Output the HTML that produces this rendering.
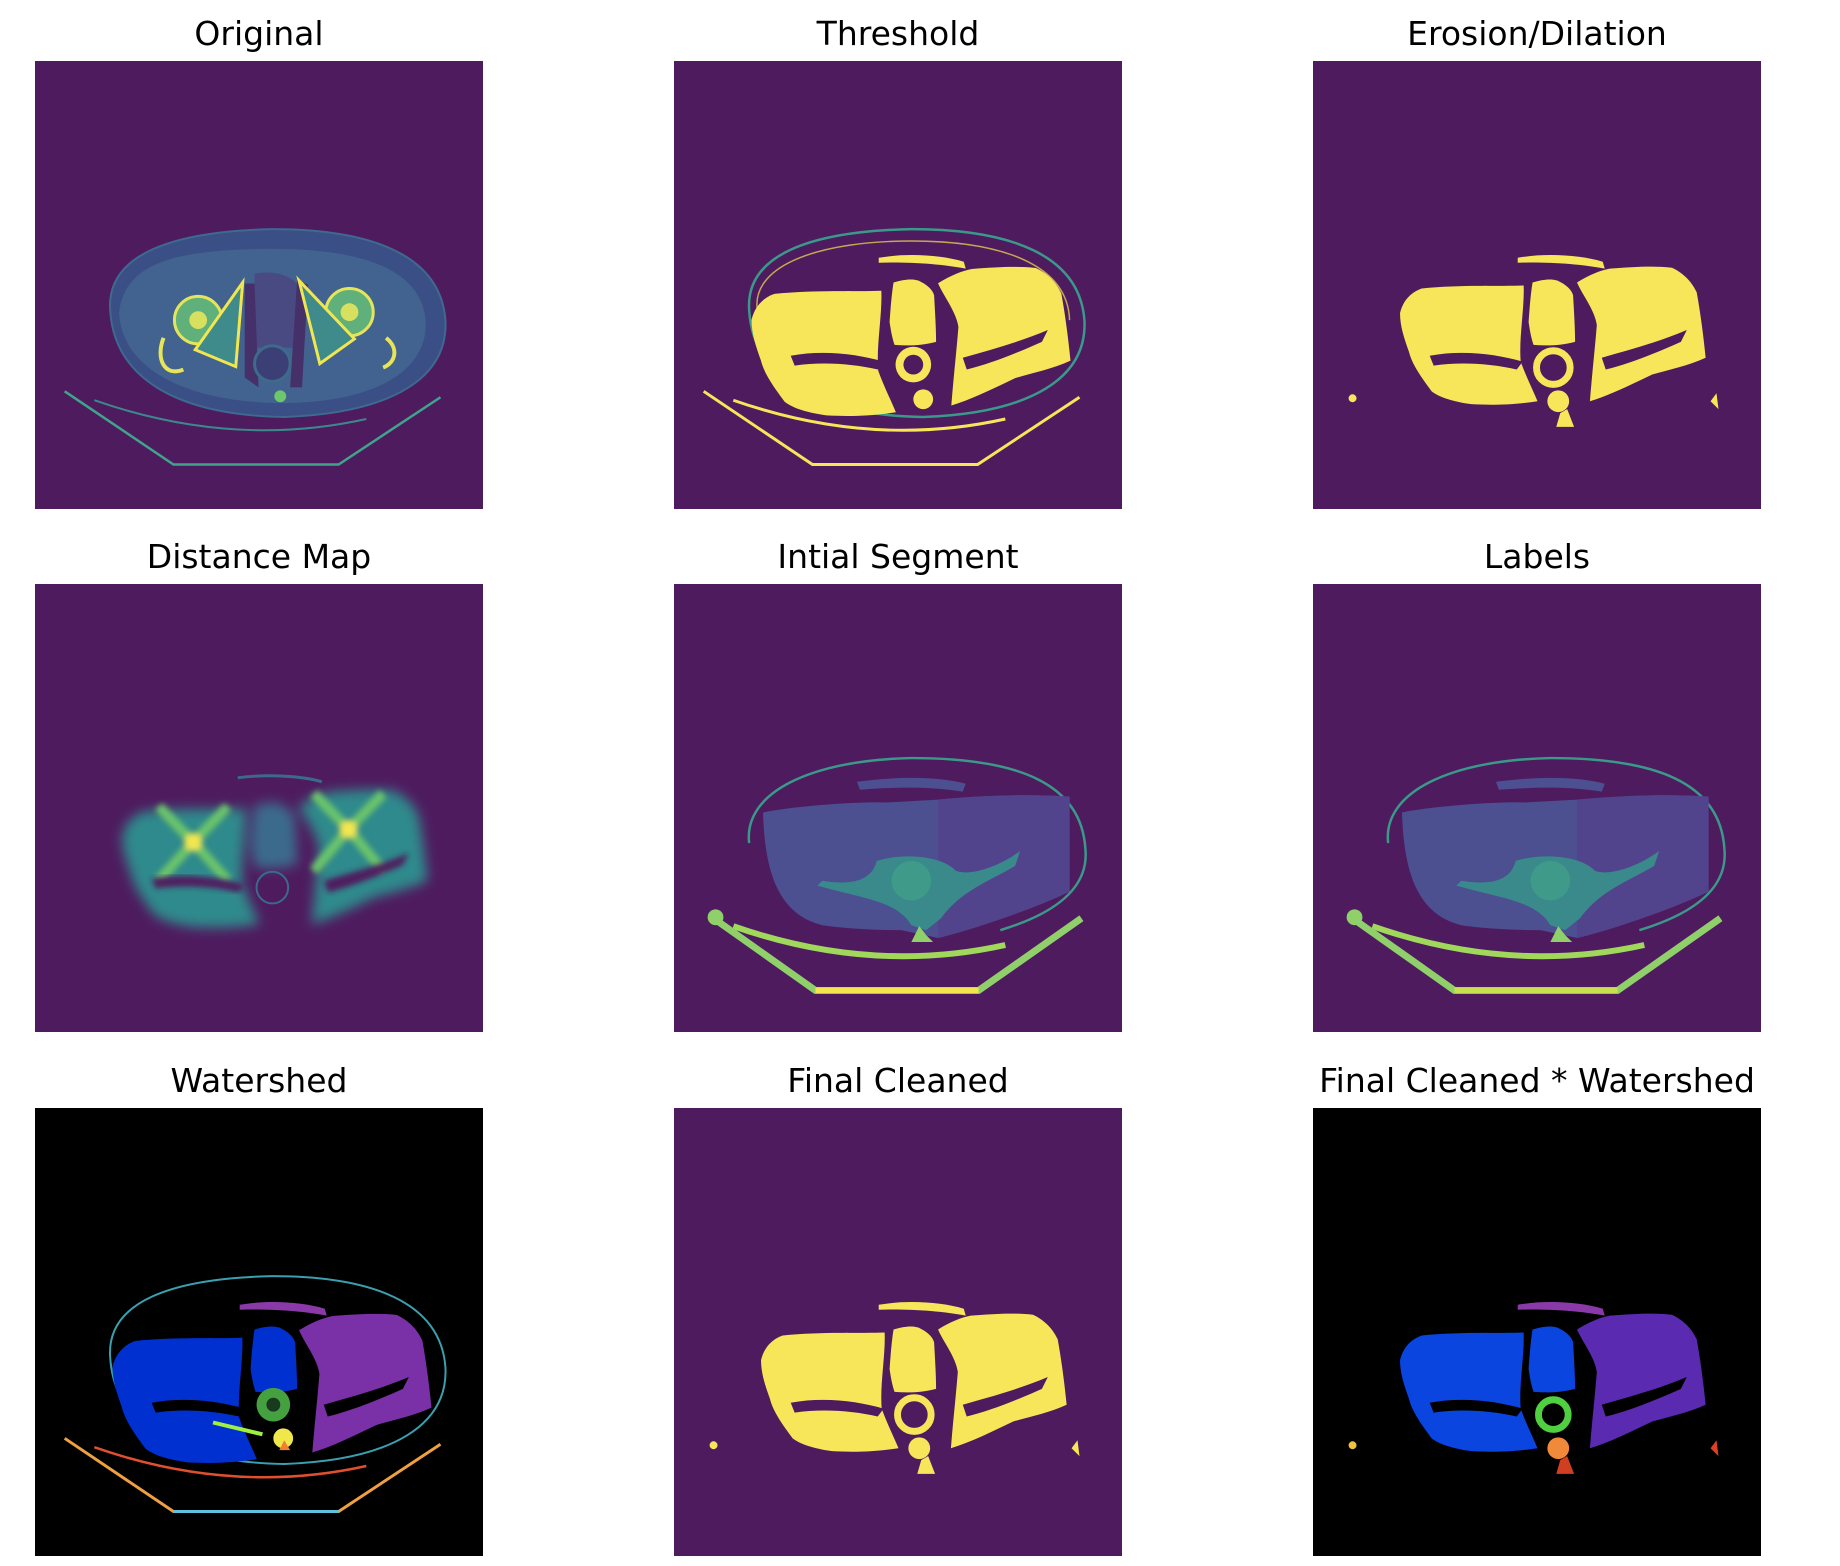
<!DOCTYPE html>
<html><head><meta charset="utf-8">
<style>
html,body{margin:0;padding:0;background:#fff;}
body{width:1840px;height:1566px;position:relative;overflow:hidden;font-family:"DejaVu Sans","Liberation Sans",sans-serif;}
.title{position:absolute;width:600px;text-align:center;font-size:33px;line-height:33px;color:#000;white-space:nowrap;}
svg.p{position:absolute;width:448px;height:448px;}
</style></head>
<body>
<svg width="0" height="0" style="position:absolute">
<defs>
<path id="LM" d="M88,255 C92,238 104,232 110,230 C150,226 190,228 213,227 C214,250 208,280 210,304 C215,318 222,332 227,344 C200,348 180,348 160,347 C140,344 128,340 120,334 C108,318 100,306 97,294 C92,280 88,268 88,255 Z"/>
<path id="CM" d="M222,224 C232,221 240,220 247,222 C256,226 262,232 263,237 C264,255 265,270 265,284 C250,288 236,288 223,287 C220,278 219,270 218,264 C219,250 220,236 222,224 Z"/>
<path id="RM" d="M267,224 C280,216 290,212 300,210 C325,208 345,207 363,209 C376,215 384,225 388,234 C392,256 395,280 397,300 C380,308 360,312 343,317 C320,328 300,338 280,344 C282,318 285,292 287,267 C285,252 272,236 267,224 Z"/>
<path id="TS" d="M207,199 C235,194 270,196 293,203 L295,210 C270,205 235,203 207,204 Z"/>
<path id="BODY" d="M76,252 C72,195 140,172 240,170 C340,170 410,196 415,262 C418,320 362,356 252,360 C142,358 80,320 76,252 Z"/>
<path id="TB" d="M30,334 L140,408 L307,408 L410,340"/>
<path id="ARC" d="M60,343 Q200,392 335,362"/>
<path id="GAPL" d="M118,298 C150,292 185,296 212,304 L206,312 C180,306 150,304 122,308 Z"/>
<path id="GAPR" d="M292,300 C320,292 350,284 378,272 L372,284 C345,296 320,306 296,312 Z"/>
</defs>
</svg>

<!-- Titles -->
<div class="title" style="left:-41px;top:17px">Original</div>
<div class="title" style="left:598px;top:17px">Threshold</div>
<div class="title" style="left:1237px;top:17px">Erosion/Dilation</div>
<div class="title" style="left:-41px;top:540px">Distance Map</div>
<div class="title" style="left:598px;top:540px">Intial Segment</div>
<div class="title" style="left:1237px;top:540px">Labels</div>
<div class="title" style="left:-41px;top:1064px">Watershed</div>
<div class="title" style="left:598px;top:1064px">Final Cleaned</div>
<div class="title" style="left:1237px;top:1064px">Final Cleaned * Watershed</div>

<!-- Original -->
<svg class="p" style="left:35px;top:61px" viewBox="0 0 453 453">
<rect width="453" height="453" fill="#4f1b5f"/>
<use href="#BODY" fill="#3a4f85" stroke="#3d6a8e" stroke-width="2"/>
<path d="M85,255 C90,205 140,190 240,190 C330,190 390,210 395,262 C398,310 350,345 250,346 C150,345 88,310 85,255 Z" fill="#42638f"/>
<path d="M222,215 C240,212 255,215 265,225 L262,290 L222,290 Z" fill="#4a4a82"/>
<path d="M212,225 L222,225 L226,330 L212,320Z M265,222 L276,226 L270,330 L258,330Z" fill="#45306a"/>
<circle cx="165" cy="262" r="24" fill="#5fb07a" stroke="#e6e45a" stroke-width="3"/>
<circle cx="165" cy="262" r="9" fill="#d8e060"/>
<circle cx="318" cy="254" r="24" fill="#5fb07a" stroke="#e6e45a" stroke-width="3"/>
<circle cx="318" cy="254" r="9" fill="#d8e060"/>
<path d="M210,224 L162,292 L203,309 Z" fill="#3f8a8a" stroke="#f2e650" stroke-width="3"/>
<path d="M267,222 L323,281 L288,306 Z" fill="#3f8a8a" stroke="#f2e650" stroke-width="3"/>
<path d="M130,280 C122,300 130,320 150,312" fill="none" stroke="#e8e45a" stroke-width="4"/>
<path d="M355,280 C368,290 365,305 352,310" fill="none" stroke="#e8e45a" stroke-width="4"/>
<circle cx="240" cy="306" r="18" fill="#3b3f76" stroke="#3e6a8c" stroke-width="3"/>
<circle cx="248" cy="339" r="6" fill="#6cc86a"/>
<use href="#ARC" fill="none" stroke="#3a8a8c" stroke-width="2"/>
<use href="#TB" fill="none" stroke="#3fa58a" stroke-width="2.5"/>
</svg>

<!-- Threshold -->
<svg class="p" style="left:674px;top:61px" viewBox="0 0 453 453">
<rect width="453" height="453" fill="#4f1b5f"/>
<use href="#BODY" fill="none" stroke="#3a9a8a" stroke-width="2.5"/>
<path d="M84,250 C80,205 150,182 240,182 C330,182 398,205 400,262" fill="none" stroke="#f2e650" stroke-width="1.5" opacity="0.7"/>
<use href="#LM" fill="#f8e65a" transform="translate(-14,-6) scale(1.05)"/>
<use href="#CM" fill="#f8e65a"/>
<use href="#RM" fill="#f8e65a" transform="translate(-8,-6) scale(1.03)"/>
<use href="#TS" fill="#f8e65a"/>
<use href="#GAPL" fill="#4f1b5f"/><use href="#GAPR" fill="#4f1b5f"/>
<circle cx="242" cy="307" r="18" fill="#f8e65a"/>
<circle cx="242" cy="307" r="10" fill="#4f1b5f"/>
<circle cx="252" cy="342" r="10" fill="#f8e65a"/>
<use href="#ARC" fill="none" stroke="#f8e65a" stroke-width="3"/>
<use href="#TB" fill="none" stroke="#f8e65a" stroke-width="3"/>
</svg>

<!-- Erosion/Dilation -->
<svg class="p" style="left:1313px;top:61px" viewBox="0 0 453 453">
<rect width="453" height="453" fill="#4f1b5f"/>
<use href="#LM" fill="#f8e65a"/><use href="#CM" fill="#f8e65a"/><use href="#RM" fill="#f8e65a"/><use href="#TS" fill="#f8e65a"/>
<use href="#GAPL" fill="#4f1b5f"/><use href="#GAPR" fill="#4f1b5f"/>
<circle cx="243" cy="310" r="17" fill="none" stroke="#f8e65a" stroke-width="7"/>
<circle cx="248" cy="344" r="11" fill="#f8e65a"/>
<path d="M250,356 L257,352 L264,370 L246,370 Z" fill="#f8e65a"/>
<circle cx="40" cy="341" r="4" fill="#f8e65a"/><path d="M402,344 L408,336 L410,352 Z" fill="#f8e65a"/>
</svg>

<!-- Distance Map -->
<svg class="p" style="left:35px;top:584px" viewBox="0 0 453 453">
<defs><filter id="bl" x="-20%" y="-20%" width="140%" height="140%"><feGaussianBlur stdDeviation="6"/></filter>
<filter id="bl2"><feGaussianBlur stdDeviation="3"/></filter></defs>
<rect width="453" height="453" fill="#4f1b5f"/>
<g filter="url(#bl)">
<use href="#LM" fill="#2f8a8c"/><use href="#RM" fill="#2f8a8c"/>
<use href="#CM" fill="#3b6a8c"/>
</g>
<g filter="url(#bl2)">
<path d="M125,225 L160,261 L195,225 M125,300 L160,261 L195,300" stroke="#6cc46a" stroke-width="10" fill="none"/>
<path d="M282,212 L317,248 L352,212 M282,290 L317,248 L352,290" stroke="#6cc46a" stroke-width="10" fill="none"/>
<circle cx="160" cy="261" r="9" fill="#f2e650"/>
<circle cx="317" cy="248" r="9" fill="#f2e650"/>
</g>
<use href="#GAPL" fill="#4f1b5f" filter="url(#bl2)"/><use href="#GAPR" fill="#4f1b5f" filter="url(#bl2)"/>
<circle cx="240" cy="307" r="16" fill="none" stroke="#3b6a8c" stroke-width="2"/>
<path d="M205,196 C235,192 270,194 290,200" stroke="#3b6a8c" stroke-width="3" fill="none"/>
</svg>

<!-- Intial Segment -->
<svg class="p" style="left:674px;top:584px" viewBox="0 0 453 453">
<rect width="453" height="453" fill="#4f1b5f"/>
<path d="M76,262 C70,210 140,178 240,176 C345,176 412,200 416,268 C420,310 380,335 330,350" fill="none" stroke="#3a9a8a" stroke-width="2.5"/>
<path d="M90,231 C120,225 180,220 213,221 L267,218 C310,214 360,212 400,215 L400,311 C360,330 300,350 267,358 L230,350 C200,350 170,348 150,345 C110,335 92,300 90,231 Z" fill="#4c4f90"/>
<path d="M267,218 C310,214 360,212 400,215 L400,311 C360,330 300,350 267,358 Z" fill="#52448c"/>
<path d="M185,200 C230,194 270,195 295,202 L292,210 C260,205 230,205 188,208 Z" fill="#4c4f90"/>
<path d="M205,280 C230,272 270,274 285,290 C300,296 330,285 350,270 L345,285 C320,300 290,310 270,338 L255,350 L240,345 C225,320 190,318 145,305 L150,300 C180,305 200,300 205,280 Z" fill="#3a8a8c"/>
<circle cx="240" cy="300" r="20" fill="#3f9a8a"/>
<path d="M248,346 L255,355 L262,362 L240,362 Z" fill="#8fd06a"/>
<use href="#ARC" fill="none" stroke="#9fd85a" stroke-width="6" transform="translate(0,3)"/>
<path d="M40,338 L143,411 L308,411 L412,338" fill="none" stroke="#8fd06a" stroke-width="7"/>
<path d="M143,411 L308,411" stroke="#f2e650" stroke-width="6"/>
<circle cx="42" cy="337" r="8" fill="#8fd06a"/>
</svg>

<!-- Labels -->
<svg class="p" style="left:1313px;top:584px" viewBox="0 0 453 453">
<rect width="453" height="453" fill="#4f1b5f"/>
<path d="M76,262 C70,210 140,178 240,176 C345,176 412,200 416,268 C420,310 380,335 330,350" fill="none" stroke="#3a9a8a" stroke-width="2.5"/>
<path d="M90,231 C120,225 180,220 213,221 L267,218 C310,214 360,212 400,215 L400,311 C360,330 300,350 267,358 L230,350 C200,350 170,348 150,345 C110,335 92,300 90,231 Z" fill="#4c4f90"/>
<path d="M267,218 C310,214 360,212 400,215 L400,311 C360,330 300,350 267,358 Z" fill="#52448c"/>
<path d="M185,200 C230,194 270,195 295,202 L292,210 C260,205 230,205 188,208 Z" fill="#4c4f90"/>
<path d="M205,280 C230,272 270,274 285,290 C300,296 330,285 350,270 L345,285 C320,300 290,310 270,338 L255,350 L240,345 C225,320 190,318 145,305 L150,300 C180,305 200,300 205,280 Z" fill="#3a8a8c"/>
<circle cx="240" cy="300" r="20" fill="#3f9a8a"/>
<path d="M248,346 L255,355 L262,362 L240,362 Z" fill="#8fd06a"/>
<use href="#ARC" fill="none" stroke="#9fd85a" stroke-width="6" transform="translate(0,3)"/>
<path d="M40,338 L143,411 L308,411 L412,338" fill="none" stroke="#8fd06a" stroke-width="7"/>
<path d="M143,411 L308,411" stroke="#c8e050" stroke-width="6"/>
<circle cx="42" cy="337" r="8" fill="#8fd06a"/>
</svg>

<!-- Watershed -->
<svg class="p" style="left:35px;top:1108px" viewBox="0 0 453 453">
<rect width="453" height="453" fill="#000"/>
<use href="#BODY" fill="none" stroke="#3aa0b0" stroke-width="2"/>
<use href="#LM" fill="#0030d0" transform="translate(-14,-6) scale(1.05)"/>
<use href="#CM" fill="#0030d0"/>
<use href="#RM" fill="#7a30a6" transform="translate(-8,-6) scale(1.03)"/>
<use href="#TS" fill="#8a3aa8"/>
<use href="#GAPL" fill="#000"/><use href="#GAPR" fill="#000"/>
<circle cx="241" cy="300" r="17" fill="#45a040"/>
<circle cx="241" cy="300" r="7" fill="#1a3a20"/>
<circle cx="251" cy="334" r="10" fill="#f0e84a"/>
<path d="M247,346 L252,336 L258,346 Z" fill="#f08030"/>
<path d="M180,318 L230,330" stroke="#a0f040" stroke-width="4"/>
<use href="#ARC" fill="none" stroke="#e05030" stroke-width="2.5"/>
<use href="#TB" fill="none" stroke="#f0a040" stroke-width="3"/>
<path d="M140,408 L307,408" stroke="#60c0e0" stroke-width="3"/>
</svg>

<!-- Final Cleaned -->
<svg class="p" style="left:674px;top:1108px" viewBox="0 0 453 453">
<rect width="453" height="453" fill="#4f1b5f"/>
<use href="#LM" fill="#f8e65a"/><use href="#CM" fill="#f8e65a"/><use href="#RM" fill="#f8e65a"/><use href="#TS" fill="#f8e65a"/>
<use href="#GAPL" fill="#4f1b5f"/><use href="#GAPR" fill="#4f1b5f"/>
<circle cx="243" cy="310" r="17" fill="none" stroke="#f8e65a" stroke-width="7"/>
<circle cx="248" cy="344" r="11" fill="#f8e65a"/>
<path d="M250,356 L257,352 L264,370 L246,370 Z" fill="#f8e65a"/>
<circle cx="40" cy="341" r="4" fill="#f8e65a"/><path d="M402,344 L408,336 L410,352 Z" fill="#f8e65a"/>
</svg>

<!-- Final Cleaned * Watershed -->
<svg class="p" style="left:1313px;top:1108px" viewBox="0 0 453 453">
<rect width="453" height="453" fill="#000"/>
<use href="#LM" fill="#0a45e0"/><use href="#CM" fill="#0a45e0"/><use href="#RM" fill="#5a2ab0"/><use href="#TS" fill="#8a3aa8"/>
<use href="#GAPL" fill="#000"/><use href="#GAPR" fill="#000"/>
<circle cx="243" cy="310" r="15" fill="none" stroke="#50d040" stroke-width="7"/>
<circle cx="248" cy="344" r="11" fill="#f08a3a"/>
<path d="M250,356 L257,352 L264,370 L246,370 Z" fill="#d04020"/>
<circle cx="40" cy="341" r="4" fill="#f0c040"/><path d="M402,344 L408,336 L410,352 Z" fill="#e04020"/>
</svg>
</body></html>
